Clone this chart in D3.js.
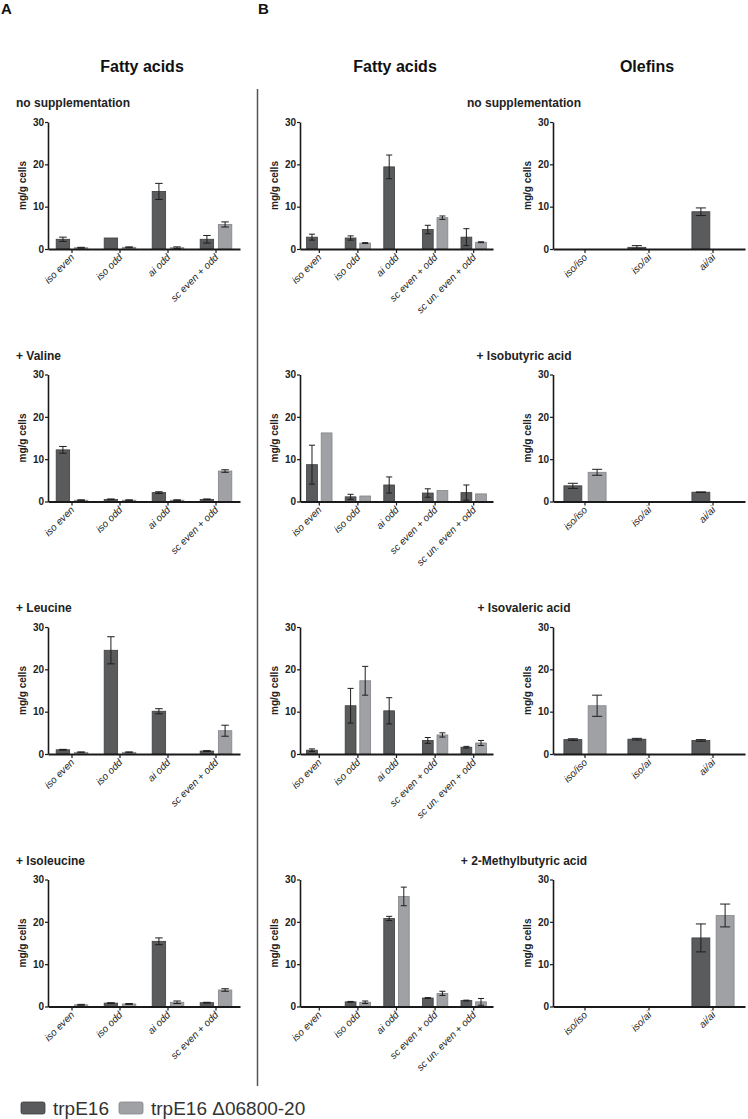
<!DOCTYPE html>
<html>
<head>
<meta charset="utf-8">
<script src="https://cdn.jsdelivr.net/npm/d3@7"></script>
<style>
  body { margin: 0; background: #fff; }
  svg { font-family: "Liberation Sans", Arial, sans-serif; }
</style>
</head>
<body>
<div id="chart"></div>
<script>
let width = 748
let height = 1119

// categories
const catsA = ['iso even', 'iso odd', 'ai odd', 'sc even + odd']
const catsB = ['iso even', 'iso odd', 'ai odd', 'sc even + odd', 'sc un. even + odd']
const catsOl = ['iso/iso', 'iso/ai', 'ai/ai']
const series = ['trpE16', 'trpE16 \u039406800-20']
const titlesA = ['no supplementation', '+ Valine', '+ Leucine', '+ Isoleucine']
const titlesB = ['no supplementation', '+ Isobutyric acid', '+ Isovaleric acid', '+ 2-Methylbutyric acid']
const yTicks = [0, 10, 20, 30]

// panel A, fatty acids (rows = supplementation)
const faA_wt = [
  [2.3, 2.6, 13.6, 2.3],
  [12.2, 0.5, 2.1, 0.5],
  [1.0, 24.5, 10.1, 0.7],
  [0, 0.8, 15.4, 0.9]
]
const faA_wtErr = [
  [0.5, 0, 1.9, 0.9],
  [0.8, 0.1, 0.2, 0.1],
  [0.1, 3.2, 0.6, 0.1],
  [0, 0.1, 0.8, 0.1]
]
const faA_mut = [
  [0.3, 0.4, 0.3, 5.8],
  [0.3, 0.3, 0.3, 7.2],
  [0.4, 0.4, 0, 5.5],
  [0.4, 0.6, 1.0, 3.9]
]
const faA_mutErr = [
  [0.1, 0.1, 0.2, 0.6],
  [0.1, 0.1, 0.1, 0.3],
  [0.1, 0.1, 0, 1.3],
  [0.1, 0.1, 0.3, 0.3]
]

// panel B, fatty acids
const faB_wt = [
  [2.8, 2.6, 19.4, 4.6, 2.8],
  [8.7, 1.1, 3.9, 2.0, 2.1],
  [0.9, 11.4, 10.2, 3.2, 1.6],
  [0, 1.1, 20.8, 2.0, 1.4]
]
const faB_wtErr = [
  [0.7, 0.5, 2.8, 1.0, 2.0],
  [4.6, 0.6, 1.9, 1.0, 1.8],
  [0.3, 4.1, 3.1, 0.7, 0.2],
  [0, 0.1, 0.5, 0.1, 0.1]
]
const faB_mut = [
  [0, 1.4, 0, 7.4, 1.6],
  [16.2, 1.3, 0, 2.6, 1.8],
  [0, 17.3, 0, 4.5, 2.6],
  [0, 1.0, 26.0, 3.1, 1.1]
]
const faB_mutErr = [
  [0, 0.1, 0, 0.4, 0.1],
  [0, 0, 0, 0, 0],
  [0, 3.4, 0, 0.5, 0.6],
  [0, 0.3, 2.2, 0.5, 0.8]
]

// panel B, olefins
const ol_wt = [
  [0, 0.4, 8.8],
  [3.7, 0, 2.2],
  [3.4, 3.5, 3.2],
  [0, 0, 16.2]
]
const ol_wtErr = [
  [0, 0.4, 0.9],
  [0.6, 0, 0.05],
  [0.2, 0.2, 0.2],
  [0, 0, 3.3]
]
const ol_mut = [
  [0, 0, 0],
  [6.9, 0, 0],
  [11.4, 0, 0],
  [0, 0, 21.5]
]
const ol_mutErr = [
  [0, 0, 0],
  [0.7, 0, 0],
  [2.5, 0, 0],
  [0, 0, 2.7]
]

const colors = ['#595b5d', '#9fa1a4']
const strokes = ['#3c3e40', '#838588']

let rowTop = [122, 374.5, 627, 879.5]
let plotH = 127

let svg = d3.select('#chart')
  .append('svg')
  .attr('width', width)
  .attr('height', height)

function drawPlot(x0, x1, top, cats, wt, wtErr, mut, mutErr) {
  let g = svg.append('g')

  let xScale = d3.scaleBand()
    .domain(cats)
    .range([x0, x1])

  let sub = d3.scaleBand()
    .domain([0, 1])
    .range([0, xScale.bandwidth()])
    .paddingInner(0.26)
    .paddingOuter(0.45)

  let yScale = d3.scaleLinear()
    .domain([0, 30])
    .range([top + plotH, top])

  let rows = []
  cats.forEach((c, i) => {
    rows.push({cat: c, s: 0, v: wt[i], e: wtErr[i]})
    rows.push({cat: c, s: 1, v: mut[i], e: mutErr[i]})
  })
  let shown = rows.filter(d => d.v > 0)

  g.selectAll('.bar')
    .data(shown)
    .enter()
    .append('rect')
    .attr('class', 'bar')
    .attr('x', d => xScale(d.cat) + sub(d.s))
    .attr('y', d => yScale(d.v))
    .attr('width', sub.bandwidth())
    .attr('height', d => yScale(0) - yScale(d.v))
    .attr('fill', d => colors[d.s])
    .attr('stroke', d => strokes[d.s])
    .attr('stroke-width', 0.8)

  let errs = shown.filter(d => d.e > 0)
  let cap = sub.bandwidth() * 0.28

  errs.forEach(d => {
    let cx = xScale(d.cat) + sub(d.s) + sub.bandwidth() / 2
    let lo = yScale(Math.max(0, d.v - d.e))
    let hi = yScale(d.v + d.e)
    g.append('line')
      .attr('x1', cx).attr('x2', cx)
      .attr('y1', lo).attr('y2', hi)
      .attr('stroke', '#1e1e1e').attr('stroke-width', 1)
    g.append('line')
      .attr('x1', cx - cap).attr('x2', cx + cap)
      .attr('y1', hi).attr('y2', hi)
      .attr('stroke', '#1e1e1e').attr('stroke-width', 1)
    g.append('line')
      .attr('x1', cx - cap).attr('x2', cx + cap)
      .attr('y1', lo).attr('y2', lo)
      .attr('stroke', '#1e1e1e').attr('stroke-width', 1)
  })

  // y axis
  let yAx = g.append('g')
    .attr('transform', 'translate(' + x0 + ',0)')
    .call(d3.axisLeft(yScale).tickValues(yTicks).tickSize(3).tickSizeOuter(0).tickPadding(1))
  yAx.select('.domain').attr('stroke', '#1a1a1a').attr('stroke-width', 1.6)
  yAx.selectAll('.tick line').attr('stroke', '#1a1a1a').attr('stroke-width', 1.2)
  yAx.selectAll('.tick text')
    .attr('fill', '#222')
    .style('font-size', '10px')
    .style('font-weight', 'bold')

  g.append('text')
    .attr('transform', 'translate(' + (x0 - 22) + ',' + (top + plotH / 2) + ') rotate(-90)')
    .attr('text-anchor', 'middle')
    .attr('fill', '#222')
    .style('font-size', '10px')
    .style('font-weight', 'bold')
    .text('mg/g cells')

  // x axis
  let xAx = g.append('g')
    .attr('transform', 'translate(0,' + (top + plotH) + ')')
    .call(d3.axisBottom(xScale).tickSize(4).tickSizeOuter(0).tickFormat(''))
  xAx.select('.domain').attr('stroke', '#1a1a1a').attr('stroke-width', 1.8)
  xAx.selectAll('.tick line').attr('stroke', '#1a1a1a').attr('stroke-width', 1.2)

  g.selectAll('.xlab')
    .data(cats)
    .enter()
    .append('text')
    .attr('class', 'xlab')
    .attr('transform', d => 'translate(' + (xScale(d) + xScale.bandwidth() / 2 + 3) + ',' + (top + plotH + 9) + ') rotate(-45)')
    .attr('text-anchor', 'end')
    .attr('fill', '#222')
    .style('font-size', '10px')
    .style('font-style', 'italic')
    .text(d => d)
}

// panel letters and column headers
svg.append('text').attr('x', 1).attr('y', 14)
  .style('font-size', '15px').style('font-weight', 'bold').attr('fill', '#111').text('A')
svg.append('text').attr('x', 258).attr('y', 14)
  .style('font-size', '15px').style('font-weight', 'bold').attr('fill', '#111').text('B')

let headers = [['Fatty acids', 142], ['Fatty acids', 395], ['Olefins', 647]]
headers.forEach(h => {
  svg.append('text')
    .attr('x', h[1]).attr('y', 72)
    .attr('text-anchor', 'middle')
    .attr('fill', '#111')
    .style('font-size', '16px')
    .style('font-weight', 'bold')
    .text(h[0])
})

// divider
svg.append('line')
  .attr('x1', 257.5).attr('x2', 257.5)
  .attr('y1', 89).attr('y2', 1086)
  .attr('stroke', '#555').attr('stroke-width', 1.5)

for (let r = 0; r < 4; r++) {
  svg.append('text')
    .attr('x', 16).attr('y', rowTop[r] - 15)
    .attr('fill', '#222')
    .style('font-size', '12px').style('font-weight', 'bold')
    .text(titlesA[r])
  svg.append('text')
    .attr('x', 524).attr('y', rowTop[r] - 15)
    .attr('text-anchor', 'middle')
    .attr('fill', '#222')
    .style('font-size', '12px').style('font-weight', 'bold')
    .text(titlesB[r])

  drawPlot(48, 240, rowTop[r], catsA, faA_wt[r], faA_wtErr[r], faA_mut[r], faA_mutErr[r])
  drawPlot(300, 493, rowTop[r], catsB, faB_wt[r], faB_wtErr[r], faB_mut[r], faB_mutErr[r])
  drawPlot(553, 745, rowTop[r], catsOl, ol_wt[r], ol_wtErr[r], ol_mut[r], ol_mutErr[r])
}

// legend
let legend = svg.append('g')
let legX = [21, 119]
series.forEach((s, i) => {
  legend.append('rect')
    .attr('x', legX[i]).attr('y', 1102)
    .attr('width', 24).attr('height', 12)
    .attr('rx', 2)
    .attr('fill', colors[i])
    .attr('stroke', strokes[i]).attr('stroke-width', 0.8)
  legend.append('text')
    .attr('x', legX[i] + 32).attr('y', 1115)
    .attr('fill', '#333')
    .style('font-size', '19px')
    .text(s)
})
</script>
</body>
</html>
